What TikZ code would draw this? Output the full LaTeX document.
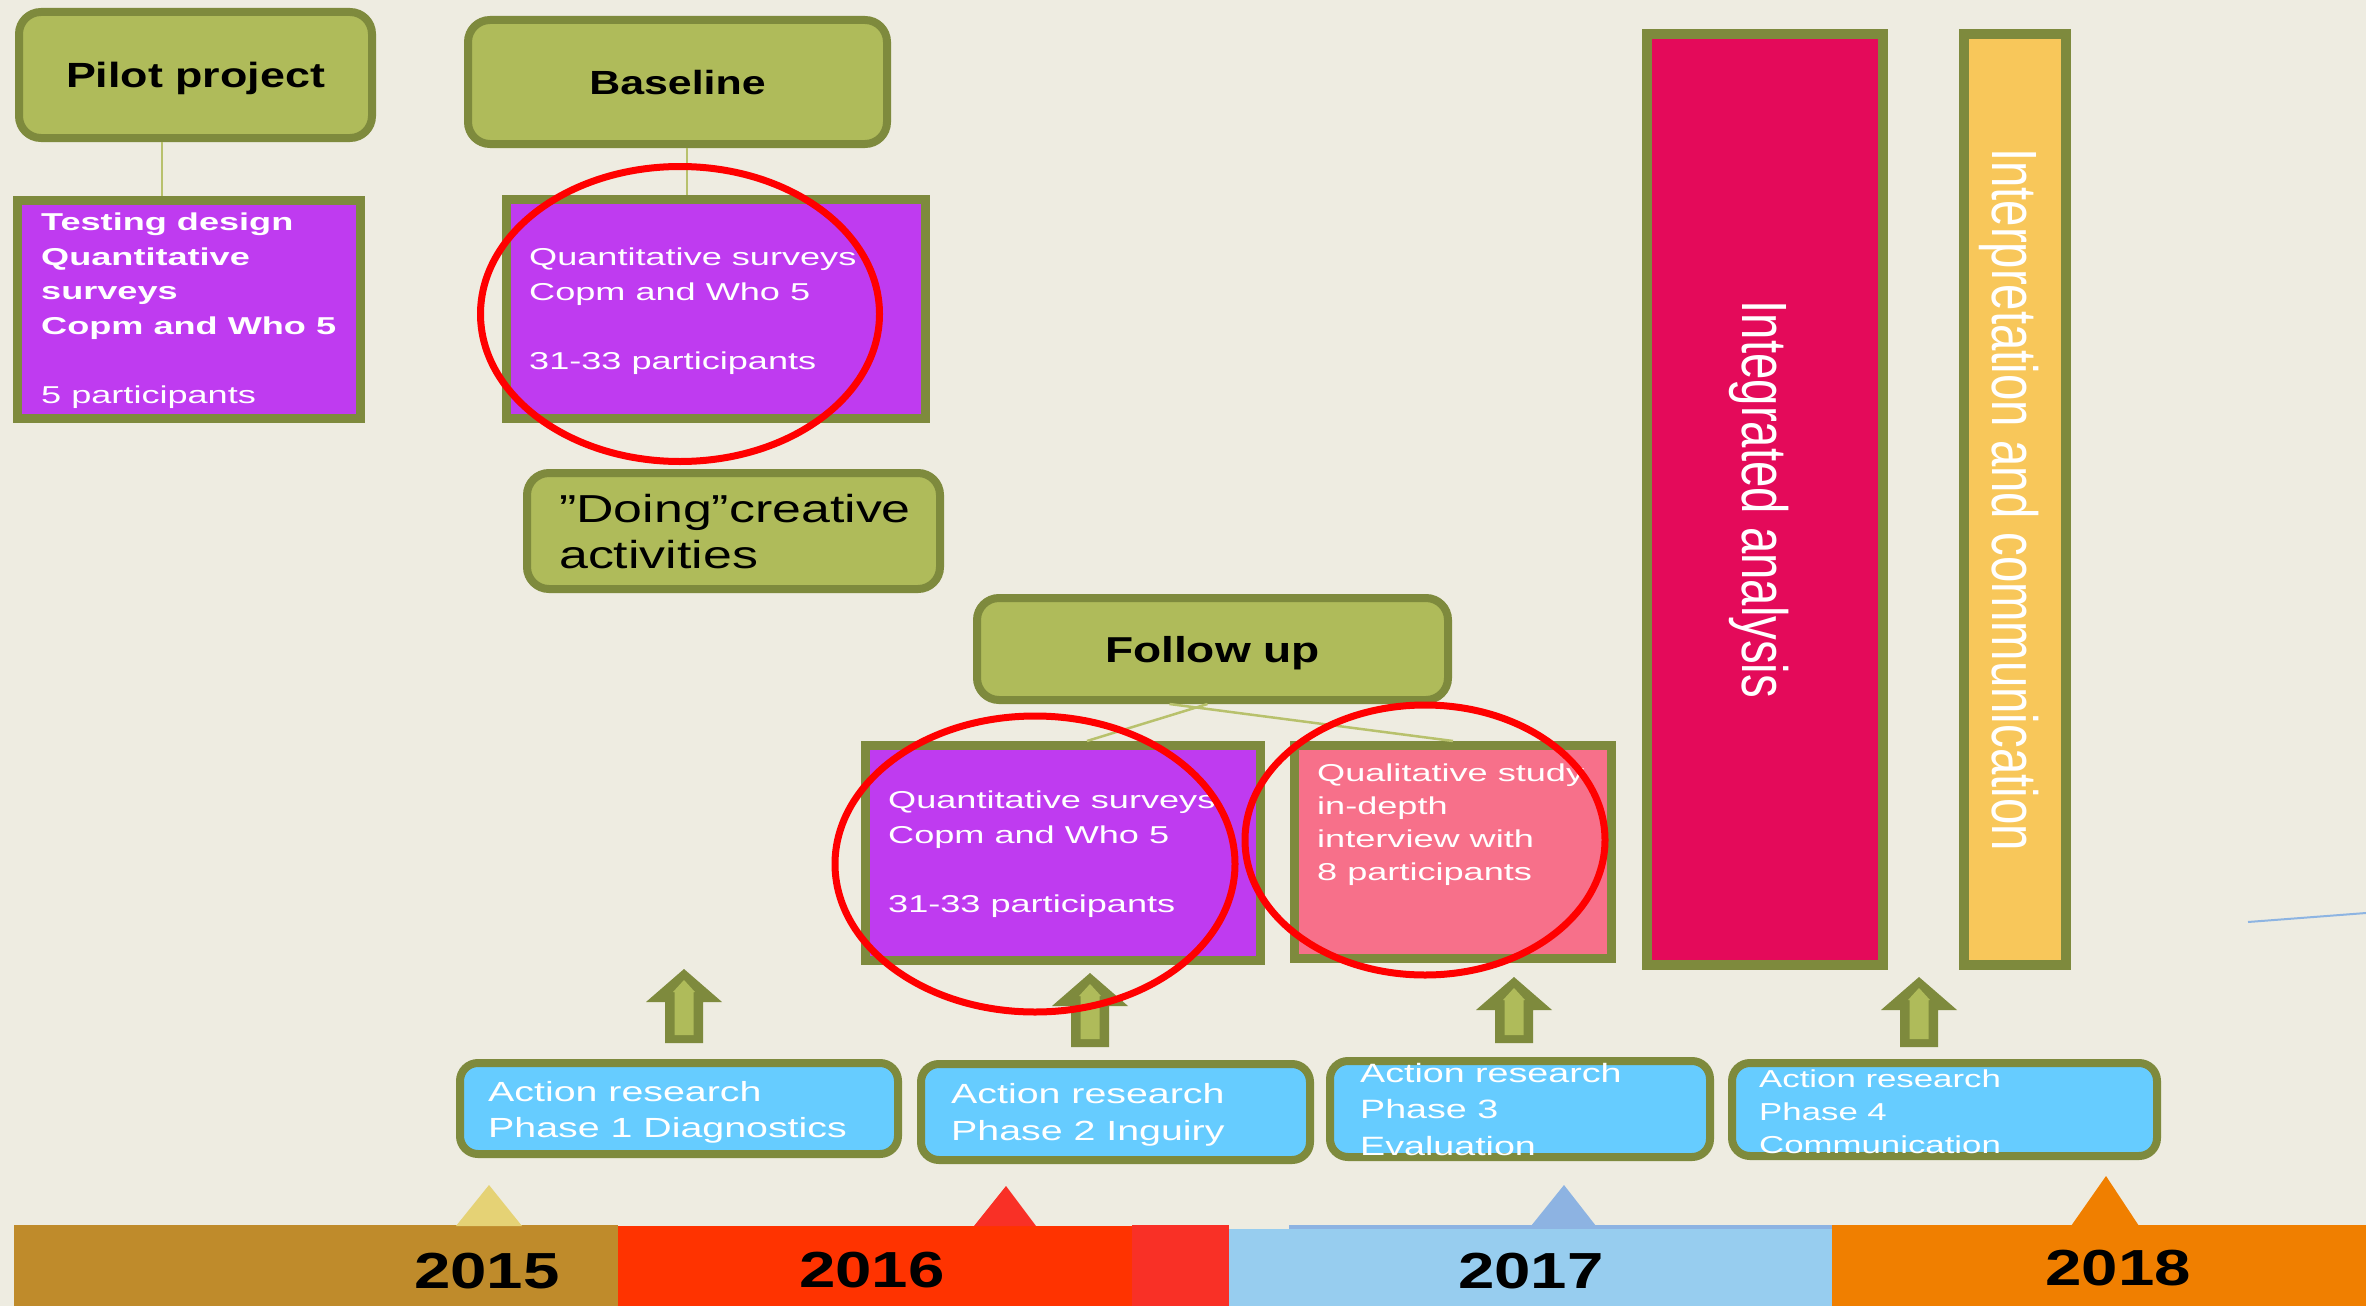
\documentclass[tikz,border=0pt]{standalone}
\usepackage{fontspec}
\setmainfont{Liberation Sans}
\newfontfamily\fbody[FakeStretch=1.48]{Liberation Sans}
\newfontfamily\fblue[FakeStretch=1.42]{Liberation Sans}
\newfontfamily\ftitle[FakeStretch=1.28]{Liberation Sans}
\newfontfamily\fdoing[FakeStretch=1.33]{Liberation Sans}
\newfontfamily\fyear[FakeStretch=1.29]{Liberation Sans}
\newfontfamily\fvert[FakeStretch=0.74]{Liberation Sans}
\definecolor{bg}{HTML}{EEECE1}
\definecolor{olivedark}{HTML}{7E8A3D}
\definecolor{olivelight}{HTML}{AFBB5A}
\definecolor{linkolive}{HTML}{B8C16C}
\definecolor{purplebox}{HTML}{BF3BF0}
\definecolor{pinkbox}{HTML}{F7708A}
\definecolor{integ}{HTML}{E40A5A}
\definecolor{interp}{HTML}{F8C75A}
\definecolor{skyblue}{HTML}{66CCFF}
\definecolor{ringred}{HTML}{FF0000}
\definecolor{y15}{HTML}{BF8B2B}
\definecolor{y16}{HTML}{FF3300}
\definecolor{y16b}{HTML}{F93026}
\definecolor{y17}{HTML}{97CDEF}
\definecolor{y17s}{HTML}{8DB3E2}
\definecolor{y18}{HTML}{F07F00}
\definecolor{tri15}{HTML}{E5D275}
\definecolor{thinblue}{HTML}{8DB4E2}
\begin{document}
\begin{tikzpicture}[x=1pt,y=-1pt,
  titlebox/.style={draw=olivedark, fill=olivelight, line width=8pt, rounded corners=22pt, inner sep=0pt, text=black},
  fillbox/.style={draw=olivedark, line width=9pt, inner sep=0pt},
  bluebox/.style={draw=olivedark, fill=skyblue, line width=8pt, rounded corners=18pt, inner sep=0pt},
  tallbox/.style={draw=olivedark, line width=10pt, inner sep=0pt, rotate=-90, minimum width=931pt, text=white, text height=45.8pt, text depth=0pt, font=\fvert\fontsize{64}{70}\selectfont},
  link/.style={draw=linkolive, line width=2.5pt},
  ring/.style={draw=ringred, line width=7pt},
  txt/.style={anchor=base west, inner sep=0pt, align=left, text=white},
  bodyfont/.style={font=\fbody\fontsize{24.4}{34.5}\selectfont},
  yearlabel/.style={anchor=base, inner sep=0pt, text=black, font=\fyear\bfseries\fontsize{50.7}{60}\selectfont},
  blockarrow/.style={fill=olivedark},
  blockinner/.style={fill=olivelight}
]
\useasboundingbox (0,0) rectangle (2366,1306);
\fill[bg] (0,0) rectangle (2366,1306);

% timeline
\fill[y15] (14,1225) rectangle (618,1306);
\fill[y16] (618,1226) rectangle (1132,1306);
\fill[y16b] (1132,1225) rectangle (1229,1306);
\fill[y17] (1229,1229) rectangle (1832,1306);
\fill[y17s] (1289,1225) rectangle (1832,1229);
\fill[y18] (1832,1225) rectangle (2366,1306);
\fill[tri15] (456,1226) -- (489,1185) -- (522,1226) -- cycle;
\fill[y16b] (974,1226) -- (1006,1186) -- (1036,1226) -- cycle;
\fill[y17s] (1531,1226) -- (1564,1185) -- (1596,1226) -- cycle;
\fill[y18] (2071,1226) -- (2106,1176) -- (2139,1226) -- cycle;
\node[yearlabel] (t15) at (487,1288) {2015};
\node[yearlabel] (t16) at (872,1287) {2016};
\node[yearlabel] (t17) at (1531,1288) {2017};
\node[yearlabel] (t18) at (2118,1285) {2018};

% title boxes
\node[titlebox, minimum width=353pt, minimum height=126pt, text height=25pt, text depth=0pt,
  font=\ftitle\bfseries\fontsize{35}{40}\selectfont] (pilot) at (195.5,75) {Pilot project};
\node[titlebox, minimum width=419pt, minimum height=124pt, text height=24pt, text depth=0pt,
  font=\ftitle\bfseries\fontsize{33.5}{40}\selectfont] (base) at (677.5,82) {Baseline};
\node[titlebox, minimum width=413pt, minimum height=116pt] (doing) at (733.5,531) {};
\node[txt, text=black, font=\fdoing\fontsize{39}{46}\selectfont] (doingtxt) at (559,568) {”Doing”creative\\activities};
\node[titlebox, minimum width=471pt, minimum height=102pt, text height=26pt, text depth=0pt,
  font=\ftitle\bfseries\fontsize{36}{40}\selectfont] (follow) at (1212.5,649) {Follow up};

% coloured boxes (text anchored at the baseline of its last line)
\node[fillbox, fill=purplebox, minimum width=343pt, minimum height=218pt] (p1) at (189,309.5) {};
\node[txt, bodyfont] (p1txt) at (41,403) {{\bfseries Testing design}\\{\bfseries Quantitative}\\{\bfseries surveys}\\{\bfseries Copm and Who 5}\\[34.5pt]5 participants};
\node[fillbox, fill=purplebox, minimum width=419pt, minimum height=219pt] (p2) at (716,309) {};
\node[txt, bodyfont] (p2txt) at (529,369) {Quantitative surveys\\Copm and Who 5\\[34.5pt]31-33 participants};
\node[fillbox, fill=purplebox, minimum width=395pt, minimum height=215pt] (p3) at (1063,853) {};
\node[txt, bodyfont] (p3txt) at (888,912) {Quantitative surveys\\Copm and Who 5\\[34.5pt]31-33 participants};
\node[fillbox, fill=pinkbox, minimum width=317pt, minimum height=213pt] (pink) at (1453,852) {};
\node[txt, font=\fbody\fontsize{24.4}{32.7}\selectfont] (pinktxt) at (1317,880) {Qualitative study\\in-depth\\interview with\\8 participants};

\node[tallbox, fill=integ, minimum height=236pt] (integ) at (1765,499.5) {Integrated analysis};
\node[tallbox, fill=interp, minimum height=102pt] (interp) at (2015,499.5) {Interpretation and communication};

% connectors
\coordinate (pl) at ([xshift=-33.5pt]pilot.south);
\draw[link] (pl) -- (pl |- p1.north);
\coordinate (bl) at ([xshift=9.5pt]base.south);
\draw[link] (bl) -- (bl |- p2.north);
\draw[link] ([xshift=-5pt]follow.south) -- ([xshift=24pt]p3.north);
\draw[link] ([xshift=-43pt]follow.south) -- (pink.north);
\coordinate (tb1) at (2248,922);
\coordinate (tb2) at (2366,913);
\draw[thinblue, line width=2pt] (tb1) -- (tb2);

% action research boxes
\node[bluebox, minimum width=438pt, minimum height=91pt] (ar1) at (679,1108.5) {};
\node[txt, font=\fblue\fontsize{27.7}{36}\selectfont] (ar1txt) at (488,1137) {Action research\\Phase 1 Diagnostics};
\node[bluebox, minimum width=389pt, minimum height=96pt] (ar2) at (1115.5,1112) {};
\node[txt, font=\fblue\fontsize{27.7}{37}\selectfont] (ar2txt) at (951,1140) {Action research\\Phase 2 Inguiry};
\node[bluebox, minimum width=380pt, minimum height=96pt] (ar3) at (1520,1109) {};
\node[txt, font=\fblue\fontsize{26.5}{36.5}\selectfont] (ar3txt) at (1360,1155) {Action research\\Phase 3\\Evaluation};
\node[bluebox, minimum width=425pt, minimum height=93pt] (ar4) at (1944.5,1109.5) {};
\node[txt, font=\fblue\fontsize{24.5}{33}\selectfont] (ar4txt) at (1759,1153) {Action research\\Phase 4\\Communication};

% block arrows
\foreach \tx/\ty/\yb in {684/969/1043, 1090/973/1047, 1514/977/1043, 1919/977/1047} {
  \fill[blockarrow] (\tx,\ty) -- ({\tx+38},{\ty+33}) -- ({\tx+19},{\ty+33}) -- ({\tx+19},\yb)
     -- ({\tx-19},\yb) -- ({\tx-19},{\ty+33}) -- ({\tx-38},{\ty+33}) -- cycle;
  \fill[blockinner] (\tx,{\ty+11}) -- ({\tx+11},{\ty+23}) -- ({\tx+9.5},{\ty+23}) -- ({\tx+9.5},{\yb-8})
     -- ({\tx-9.5},{\yb-8}) -- ({\tx-9.5},{\ty+23}) -- ({\tx-11},{\ty+23}) -- cycle;
}

% red rings
\draw[ring] (680,314) ellipse [x radius=199.5, y radius=147.5];
\draw[ring] (1035,864) ellipse [x radius=200, y radius=148];
\draw[ring] (1425,840) ellipse [x radius=180, y radius=135];
\end{tikzpicture}
\end{document}
